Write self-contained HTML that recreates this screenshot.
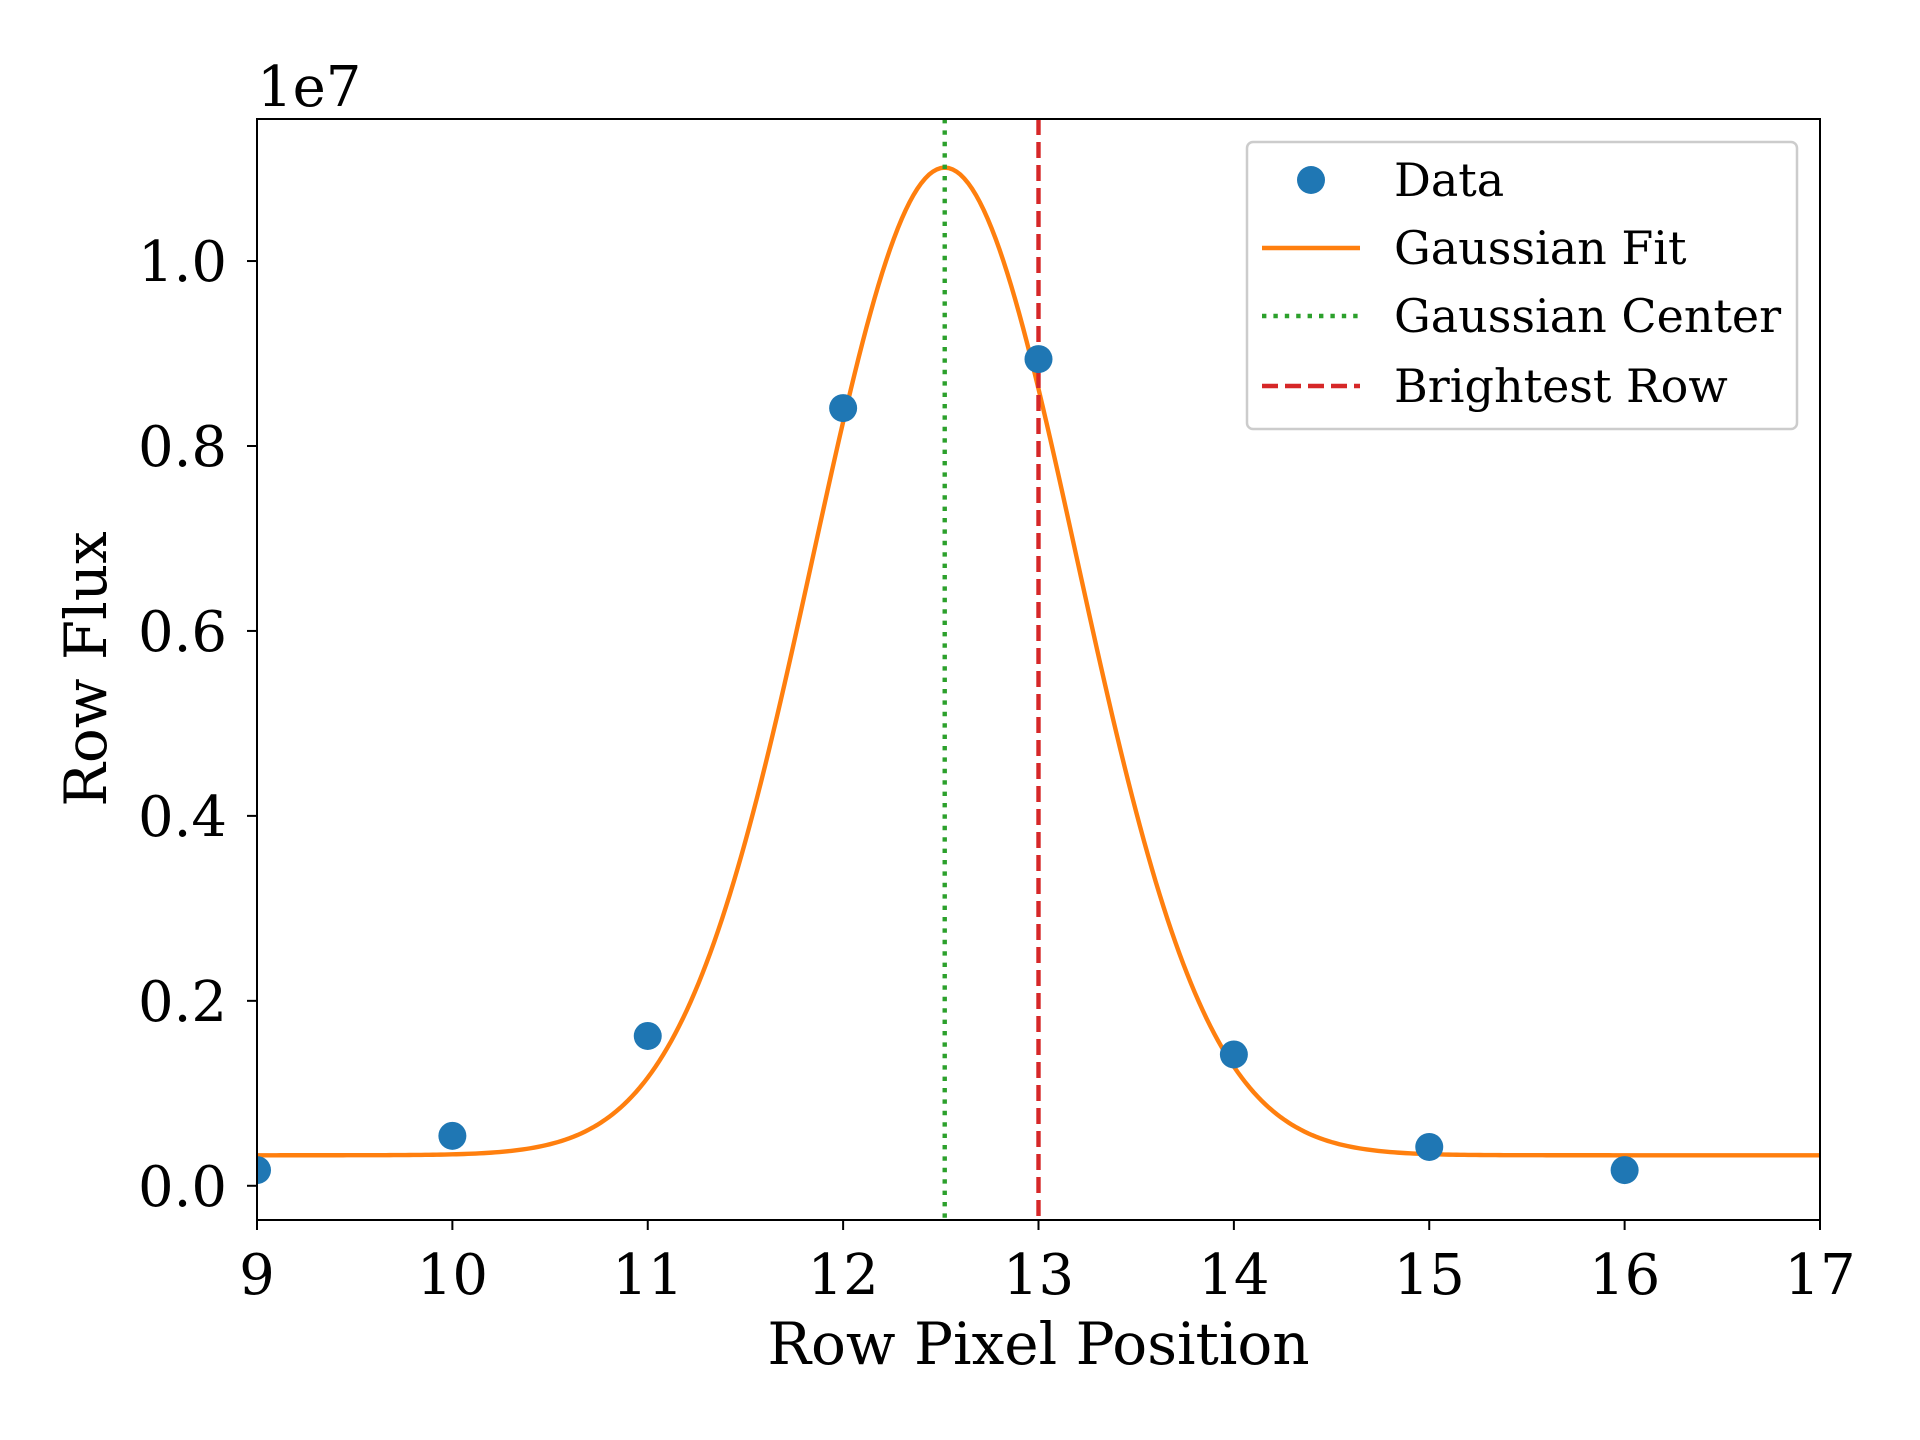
<!DOCTYPE html>
<html><head><meta charset="utf-8"><style>
html,body{margin:0;padding:0;background:#fff;}
svg{display:block;font-family:"DejaVu Serif","Liberation Serif",serif;}
</style></head><body>
<svg id="chart" width="1920" height="1440" viewBox="0 0 1920 1440">
<rect width="1920" height="1440" fill="#fff"/>
<g id="plot"></g>
</svg>
<script>
const xCats=[9,10,11,12,13,14,15,16];
const dataFlux=[0.017,0.054,0.162,0.841,0.894,0.142,0.042,0.017];
const xTicks=[9,10,11,12,13,14,15,16,17];
const yTicks=[0.0,0.2,0.4,0.6,0.8,1.0];
const yTickLabels=["0.0","0.2","0.4","0.6","0.8","1.0"];
const fitParams=[1.068,12.52,0.674,0.033]; // amp, center, sigma, offset
const brightestRow=[13];

const L=257,R=1820,T=119,B=1220;
const xMin=9,xMax=17,yMin=-0.037,yMax=1.1536;
const X=v=>L+(v-xMin)/(xMax-xMin)*(R-L);
const Y=v=>B-(v-yMin)/(yMax-yMin)*(B-T);
const NS="http://www.w3.org/2000/svg";
const g=document.getElementById('plot');
function el(t,a,txt){const e=document.createElementNS(NS,t);for(const k in a)e.setAttribute(k,a[k]);if(txt!==undefined)e.textContent=txt;g.appendChild(e);return e;}

let d="";
for(let i=0;i<=400;i++){const x=xMin+(xMax-xMin)*i/400;const y=fitParams[0]*Math.exp(-Math.pow(x-fitParams[1],2)/(2*fitParams[2]*fitParams[2]))+fitParams[3];d+=(i?"L":"M")+X(x).toFixed(2)+","+Y(y).toFixed(2);}
const cp=el('clipPath',{id:'cl'});const cr=document.createElementNS(NS,'rect');cr.setAttribute('x',L);cr.setAttribute('y',T);cr.setAttribute('width',R-L);cr.setAttribute('height',B-T);cp.appendChild(cr);
const curve=el('path',{d:d,fill:'none',stroke:'#ff7f0e','stroke-width':4.4,'clip-path':'url(#cl)'});



const gc=el('line',{x1:X(fitParams[1]),x2:X(fitParams[1]),y1:T,y2:B,stroke:'#2ca02c','stroke-width':4.4,'stroke-dasharray':'4.4,7'});


const br=el('line',{x1:X(brightestRow[0]),x2:X(brightestRow[0]),y1:T,y2:B,stroke:'#d62728','stroke-width':4.4,'stroke-dasharray':'16,7'});



xCats.forEach((c,i)=>{const p=el('circle',{cx:X(c),cy:Y(dataFlux[i]),r:14,fill:'#1f77b4','clip-path':'url(#cl)'});

});

const fr=el('rect',{x:L,y:T,width:R-L,height:B-T,fill:'none',stroke:'#000','stroke-width':2});



xTicks.forEach(t=>{el('line',{x1:X(t),x2:X(t),y1:B,y2:B+10,stroke:'#000','stroke-width':2});
const tx=el('text',{x:X(t),y:B+74,'font-size':56,'text-anchor':'middle'},String(t));

});
yTicks.forEach((t,i)=>{el('line',{x1:L-10,x2:L,y1:Y(t),y2:Y(t),stroke:'#000','stroke-width':2});
const tx=el('text',{x:L-30,y:Y(t)+20,'font-size':56,'text-anchor':'end'},yTickLabels[i]);

});

const off=el('text',{x:L,y:106,'font-size':56},'1e7');


const xl=el('text',{x:(L+R)/2,y:1364,'font-size':58,'text-anchor':'middle'},'Row Pixel Position');


const yl=el('text',{x:0,y:0,'font-size':58,'text-anchor':'middle',transform:'translate(106,669) rotate(-90)'},'Row Flux');



const lg=el('rect',{x:1247,y:142,width:550,height:287,rx:6,fill:'#fff','fill-opacity':0.8,stroke:'#ccc','stroke-width':2.5});


const ly=[180,248,316,386];
el('circle',{cx:1311,cy:ly[0],r:14,fill:'#1f77b4'});
el('line',{x1:1262,x2:1360,y1:ly[1],y2:ly[1],stroke:'#ff7f0e','stroke-width':4.4});
el('line',{x1:1262,x2:1360,y1:ly[2],y2:ly[2],stroke:'#2ca02c','stroke-width':4.4,'stroke-dasharray':'4.4,7'});
el('line',{x1:1262,x2:1360,y1:ly[3],y2:ly[3],stroke:'#d62728','stroke-width':4.4,'stroke-dasharray':'16,7'});
["Data","Gaussian Fit","Gaussian Center","Brightest Row"].forEach((s,i)=>{const t=el('text',{x:1394,y:ly[i]+16,'font-size':46},s);

});
</script>
</body></html>
